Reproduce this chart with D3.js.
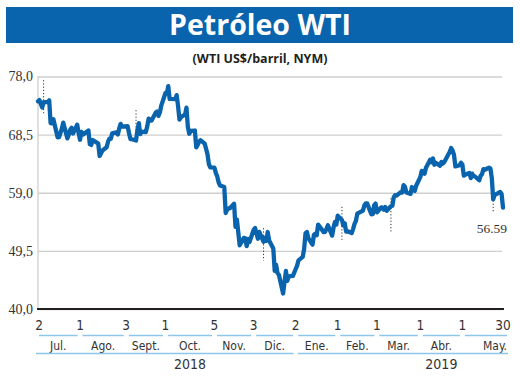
<!DOCTYPE html>
<html><head><meta charset="utf-8">
<script src="https://cdn.jsdelivr.net/npm/d3@7/dist/d3.min.js"></script>
<style>
html,body{margin:0;padding:0;background:#fff;}
svg{display:block;}
</style></head>
<body>
<script>
const title = "Petróleo WTI";
const subtitle = "(WTI US$/barril, NYM)";
const yTicks = [40.0, 49.5, 59.0, 68.5, 78.0];
const dayTicks = ["2018-07-02","2018-08-01","2018-09-03","2018-10-01","2018-11-05","2018-12-03","2019-01-02","2019-02-01","2019-03-01","2019-04-01","2019-05-01","2019-05-30"];
const months = ["Jul.","Ago.","Sept.","Oct.","Nov.","Dic.","Ene.","Feb.","Mar.","Abr.","May."];
const years = [{label:"2018", from:0, to:6, under:3},{label:"2019", from:6, to:11, under:9}];
const lastLabel = "56.59";
const dates = [
"2018-07-02","2018-07-03","2018-07-05","2018-07-06","2018-07-09","2018-07-10","2018-07-11","2018-07-12","2018-07-13",
"2018-07-16","2018-07-17","2018-07-18","2018-07-19","2018-07-20","2018-07-23","2018-07-24","2018-07-25","2018-07-26","2018-07-27",
"2018-07-30","2018-07-31","2018-08-01","2018-08-02","2018-08-03","2018-08-06","2018-08-07","2018-08-08","2018-08-09","2018-08-10",
"2018-08-13","2018-08-14","2018-08-15","2018-08-16","2018-08-17","2018-08-20","2018-08-21","2018-08-22","2018-08-23","2018-08-24",
"2018-08-27","2018-08-28","2018-08-29","2018-08-30","2018-08-31","2018-09-04","2018-09-05","2018-09-06","2018-09-07",
"2018-09-10","2018-09-11","2018-09-12","2018-09-13","2018-09-14","2018-09-17","2018-09-18","2018-09-19","2018-09-20","2018-09-21",
"2018-09-24","2018-09-25","2018-09-26","2018-09-27","2018-09-28","2018-10-01","2018-10-02","2018-10-03","2018-10-04","2018-10-05",
"2018-10-08","2018-10-09","2018-10-10","2018-10-11","2018-10-12","2018-10-15","2018-10-16","2018-10-17","2018-10-18","2018-10-19",
"2018-10-22","2018-10-23","2018-10-24","2018-10-25","2018-10-26","2018-10-29","2018-10-30","2018-10-31","2018-11-01","2018-11-02",
"2018-11-05","2018-11-06","2018-11-07","2018-11-08","2018-11-09","2018-11-12","2018-11-13","2018-11-14","2018-11-15","2018-11-16",
"2018-11-19","2018-11-20","2018-11-21","2018-11-23","2018-11-26","2018-11-27","2018-11-28","2018-11-29","2018-11-30",
"2018-12-03","2018-12-04","2018-12-06","2018-12-07","2018-12-10","2018-12-11","2018-12-12","2018-12-13","2018-12-14",
"2018-12-17","2018-12-18","2018-12-19","2018-12-20","2018-12-21","2018-12-24","2018-12-26","2018-12-27","2018-12-28","2018-12-31",
"2019-01-02","2019-01-03","2019-01-04","2019-01-07","2019-01-08","2019-01-09","2019-01-10","2019-01-11",
"2019-01-14","2019-01-15","2019-01-16","2019-01-17","2019-01-18","2019-01-22","2019-01-23","2019-01-24","2019-01-25",
"2019-01-28","2019-01-29","2019-01-30","2019-01-31","2019-02-01","2019-02-04","2019-02-05","2019-02-06","2019-02-07","2019-02-08",
"2019-02-11","2019-02-12","2019-02-13","2019-02-14","2019-02-15","2019-02-19","2019-02-20","2019-02-21","2019-02-22",
"2019-02-25","2019-02-26","2019-02-27","2019-02-28","2019-03-01","2019-03-04","2019-03-05","2019-03-06","2019-03-07","2019-03-08",
"2019-03-11","2019-03-12","2019-03-13","2019-03-14","2019-03-15","2019-03-18","2019-03-19","2019-03-20","2019-03-21","2019-03-22",
"2019-03-25","2019-03-26","2019-03-27","2019-03-28","2019-03-29","2019-04-01","2019-04-02","2019-04-03","2019-04-04","2019-04-05",
"2019-04-08","2019-04-09","2019-04-10","2019-04-11","2019-04-12","2019-04-15","2019-04-16","2019-04-17","2019-04-18",
"2019-04-22","2019-04-23","2019-04-24","2019-04-25","2019-04-26","2019-04-29","2019-04-30","2019-05-01","2019-05-02","2019-05-03",
"2019-05-06","2019-05-07","2019-05-08","2019-05-09","2019-05-10","2019-05-13","2019-05-14","2019-05-15","2019-05-16","2019-05-17",
"2019-05-20","2019-05-21","2019-05-22","2019-05-23","2019-05-24","2019-05-28","2019-05-29","2019-05-30"];
const prices = [
73.94,74.14,72.94,73.80,73.85,74.11,70.38,70.33,71.01,
68.06,68.08,68.76,69.46,70.46,67.89,68.52,69.30,69.61,68.69,
70.13,68.76,67.66,68.96,68.49,69.01,69.17,66.94,66.81,67.63,
67.20,67.04,65.01,65.46,65.91,66.43,67.35,67.86,67.83,68.72,
68.87,68.53,69.51,70.25,69.80,69.87,68.72,67.77,67.75,
67.54,69.25,70.37,68.59,68.99,68.91,69.85,71.12,70.80,70.78,
72.08,72.28,71.57,72.12,73.25,75.30,75.23,76.41,74.33,74.34,
74.29,74.96,73.17,70.97,71.34,71.78,72.92,69.75,68.65,69.12,
69.17,66.43,66.82,67.33,67.59,67.04,66.18,65.31,63.69,63.14,
63.10,62.21,61.67,60.67,60.19,59.93,55.69,56.25,56.46,56.46,
57.20,53.43,54.63,50.42,51.63,51.56,50.29,51.45,50.93,
52.95,53.25,51.49,52.61,51.00,51.65,51.15,52.58,51.20,
49.88,46.24,47.20,45.88,45.59,42.53,46.22,44.61,45.33,45.41,
46.54,47.09,47.96,48.52,49.78,52.36,52.59,51.59,
50.51,52.11,52.31,52.07,53.80,52.57,52.62,53.13,53.69,
51.99,53.31,54.23,53.79,55.26,54.56,53.66,54.01,52.64,52.72,
52.41,53.10,53.90,54.41,55.59,56.09,56.92,57.26,57.26,
55.48,55.50,56.94,57.22,55.80,56.59,56.56,56.22,56.66,56.07,
56.79,56.87,58.26,58.61,58.52,59.09,59.03,60.23,59.98,59.04,
58.82,59.94,59.41,59.30,60.14,61.59,62.58,62.46,62.10,63.08,
64.40,63.98,64.61,63.58,63.89,63.40,64.05,63.76,64.00,
65.70,66.30,65.89,65.21,63.30,63.50,63.91,63.60,61.81,61.94,
62.25,61.40,62.12,61.70,61.66,61.04,61.78,62.02,62.87,62.76,
63.10,62.99,61.42,57.91,58.63,59.14,58.81,56.59];
const markerDates = ["2018-07-06","2018-09-10","2018-12-10","2019-02-04","2019-03-11","2019-05-23"];
const markerTop = [77.4,72.5,53.2,56.7,58.1,61.4];
const markerBottom = [72.0,67.3,47.9,51.3,52.4,55.9];

const W = 520, H = 390;
const parse = d3.timeParse("%Y-%m-%d");
const data = dates.map((d,i)=>({date:parse(d), value:prices[i]}));
const tickDates = dayTicks.map(parse);

const svg = d3.select("body").append("svg").attr("width",W).attr("height",H);

// Title banner
svg.append("rect").attr("x",6).attr("y",7).attr("width",507).attr("height",36).attr("fill","#0a63ad");
svg.append("text").attr("x",260).attr("y",35).attr("text-anchor","middle")
  .attr("font-family","'Open Sans', 'DejaVu Sans', sans-serif").attr("font-weight","bold")
  .attr("font-size",28.5).attr("fill","#fff").text(title);
svg.append("text").attr("x",260).attr("y",63).attr("text-anchor","middle")
  .attr("font-family","'Open Sans', 'DejaVu Sans', sans-serif").attr("font-weight","bold")
  .attr("font-size",12.5).attr("fill","#231f20").text(subtitle);

const x = d3.scaleTime().domain([tickDates[0], tickDates[tickDates.length-1]]).range([38,503]);
const y = d3.scaleLinear().domain([40,78]).range([309,76.5]);

// gridlines
const gy = svg.append("g").attr("transform","translate(38,0)")
  .call(d3.axisLeft(y).tickValues(yTicks).tickSize(-464).tickFormat(d=>d3.format(".1f")(d).replace(".",",")).tickPadding(5));
gy.select(".domain").remove();
gy.selectAll(".tick line").attr("stroke","#cfcfcf").attr("stroke-width",1.3);
gy.selectAll(".tick text").attr("font-family","'Liberation Serif', 'DejaVu Serif', serif").attr("font-size",14).attr("fill","#333");
svg.append("line").attr("x1",38).attr("x2",38).attr("y1",76).attr("y2",309).attr("stroke","#cfcfcf").attr("stroke-width",1.3);

// markers
const mk = svg.append("g");
markerDates.forEach((d,i)=>{
  mk.append("line").attr("x1",x(parse(d))).attr("x2",x(parse(d)))
    .attr("y1",y(markerTop[i])).attr("y2",y(markerBottom[i]))
    .attr("stroke","#333").attr("stroke-width",1).attr("stroke-dasharray","1.2,2");
});

// line
const line = d3.line().x(d=>x(d.date)).y(d=>y(d.value)).curve(d3.curveLinear);
svg.append("path").datum(data).attr("d",line).attr("fill","none")
  .attr("stroke","#0a63ad").attr("stroke-width",4.3).attr("stroke-linejoin","round").attr("stroke-linecap","round");

// bottom axis line
svg.append("line").attr("x1",37).attr("x2",504).attr("y1",309).attr("y2",309).attr("stroke","#231f20").attr("stroke-width",2);

// last value label
const last = data[data.length-1];
svg.append("text").attr("x",x(last.date)+4).attr("y",y(last.value)+26).attr("text-anchor","end")
  .attr("font-family","'Liberation Serif', 'DejaVu Serif', serif").attr("font-size",13.5).attr("fill","#333").text(lastLabel);

// day ticks
const cond = "'Liberation Sans Narrow', 'DejaVu Sans Condensed', 'Roboto Condensed', sans-serif";
svg.append("g").selectAll("text").data(tickDates).join("text")
  .attr("x",(d,i)=>x(d)+(i===0?1:0)).attr("y",330).attr("text-anchor","middle")
  .attr("font-family",cond).attr("font-size",13.5).attr("fill","#333")
  .text(d=>d3.timeFormat("%-d")(d));

// month segments
const mg = svg.append("g");
months.forEach((m,i)=>{
  const a = x(tickDates[i]) + (i===0?1:2.5);
  const b = x(tickDates[i+1]) - (i===months.length-1?-4:2.5);
  mg.append("line").attr("x1",a).attr("x2",b).attr("y1",335.5).attr("y2",335.5).attr("stroke","#8ec5ea").attr("stroke-width",1.5);
  const cx = (i===months.length-1) ? b : (a+b)/2;
  mg.append("text").attr("x",cx).attr("y",349.5).attr("text-anchor",i===months.length-1?"end":"middle")
    .attr("font-family",cond).attr("font-size",12).attr("fill","#333").text(m);
});
years.forEach(yr=>{
  const a = x(tickDates[yr.from]) - (yr.from===0?2:-2);
  const b = x(tickDates[yr.to]) + (yr.to===11?5:-2);
  mg.append("line").attr("x1",a).attr("x2",b).attr("y1",353.5).attr("y2",353.5).attr("stroke","#8ec5ea").attr("stroke-width",1.5);
  const ca = x(tickDates[yr.under]), cb = x(tickDates[yr.under+1]);
  mg.append("text").attr("x",(ca+cb)/2).attr("y",369).attr("text-anchor","middle")
    .attr("font-family",cond).attr("font-size",14).attr("fill","#333").text(yr.label);
});
</script>
</body></html>
